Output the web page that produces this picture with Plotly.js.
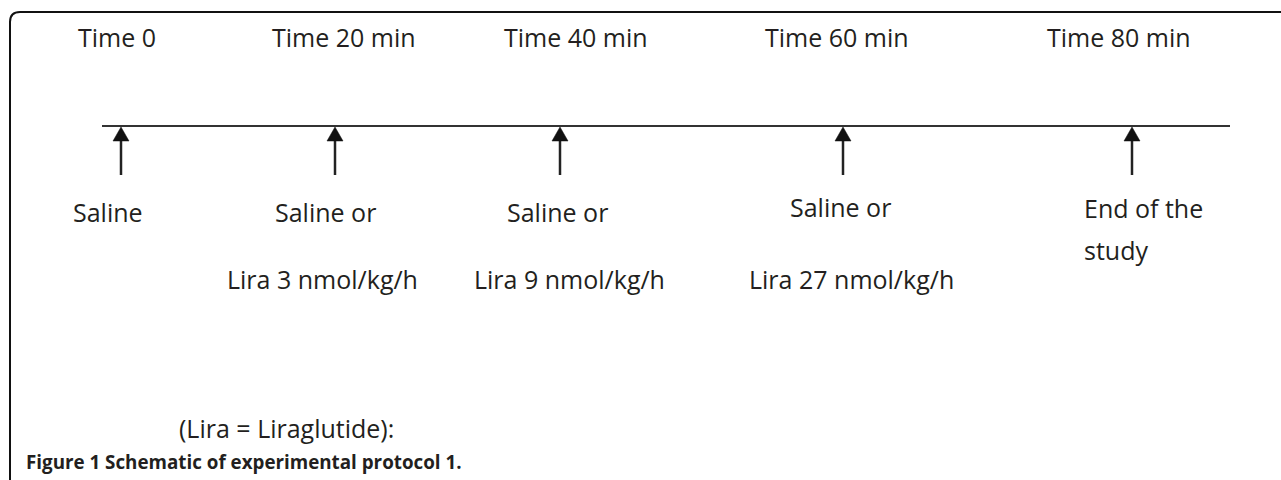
<!DOCTYPE html>
<html>
<head>
<meta charset="utf-8">
<script src="https://cdn.plot.ly/plotly-3.0.1.min.js"></script>
<style>html,body{margin:0;padding:0;background:#fff;}#chart{width:1281px;height:480px;}</style>
</head>
<body>
<div id="chart"></div>
<script>
// Protocol timeline (schematic units along the timeline axis)
var timeLabels = ["Time 0", "Time 20 min", "Time 40 min", "Time 60 min", "Time 80 min"];
var eventPos = [121, 335, 560, 843, 1132];
var timeLabelPos = [117, 344, 576, 837, 1119];
var treatLine1 = ["Saline", "Saline or", "Saline or", "Saline or", "End of the"];
var treatLine2 = ["", "Lira 3 nmol/kg/h", "Lira 9 nmol/kg/h", "Lira 27 nmol/kg/h", "study"];
var treat1Pos = [108, 325, 557, 840, 1082];
var treat2Pos = [0, 322, 569, 851, 1082];
var note = "(Lira = Liraglutide):";
var caption = "<b>Figure 1 Schematic of experimental protocol 1.</b>";

var ink = "#231f20";
var font = {family: "Open Sans, sans-serif", size: 25, color: ink};

var shapes = [];
// frame (top and left with rounded corner)
shapes.push({type: "path", xref: "x", yref: "y", path: "M 10,480 L 10,22 Q 10,12 20,12 L 1281,12",
  line: {color: "#111", width: 2}});
// timeline
shapes.push({type: "line", xref: "x", yref: "y", x0: 102, x1: 1230, y0: 126, y1: 126,
  line: {color: "#333", width: 2}});
eventPos.forEach(function (x) {
  shapes.push({type: "line", xref: "x", yref: "y", x0: x, x1: x, y0: 139, y1: 175,
    line: {color: "#222", width: 2.5}});
  shapes.push({type: "path", xref: "x", yref: "y",
    path: "M " + (x - 8) + ",141 L " + (x + 8) + ",141 L " + x + ",127 Z",
    fillcolor: "#111", line: {color: "#111", width: 0.5}});
});

var ann = [];
timeLabels.forEach(function (t, i) {
  ann.push({x: timeLabelPos[i], y: 37, xref: "x", yref: "y", text: t, showarrow: false,
    xanchor: "center", yanchor: "middle", font: font});
});
var t1y = [212, 212, 212, 207, 208];
treatLine1.forEach(function (t, i) {
  ann.push({x: treat1Pos[i], y: t1y[i], xref: "x", yref: "y", text: t, showarrow: false,
    xanchor: i === 4 ? "left" : "center", yanchor: "middle", font: font});
});
var t2y = [279, 279, 279, 279, 250];
treatLine2.forEach(function (t, i) {
  if (!t) return;
  ann.push({x: treat2Pos[i], y: t2y[i], xref: "x", yref: "y", text: t, showarrow: false,
    xanchor: i === 4 ? "left" : "center", yanchor: "middle", font: font});
});
ann.push({x: 286, y: 428, xref: "x", yref: "y", text: note, showarrow: false,
  xanchor: "center", yanchor: "middle", font: font});
ann.push({x: 24, y: 462, xref: "x", yref: "y", text: caption, showarrow: false,
  xanchor: "left", yanchor: "middle", font: {family: "Open Sans, sans-serif", size: 18.8, color: ink}});

var layout = {
  width: 1281, height: 480,
  margin: {l: 0, r: 0, t: 0, b: 0},
  paper_bgcolor: "#fff", plot_bgcolor: "#fff",
  xaxis: {range: [0, 1281], visible: false, fixedrange: true},
  yaxis: {range: [480, 0], visible: false, fixedrange: true},
  showlegend: false,
  shapes: shapes,
  annotations: ann
};
Plotly.newPlot("chart", [{x: [], y: [], type: "scatter"}], layout, {displayModeBar: false, staticPlot: true});
</script>
</body>
</html>
